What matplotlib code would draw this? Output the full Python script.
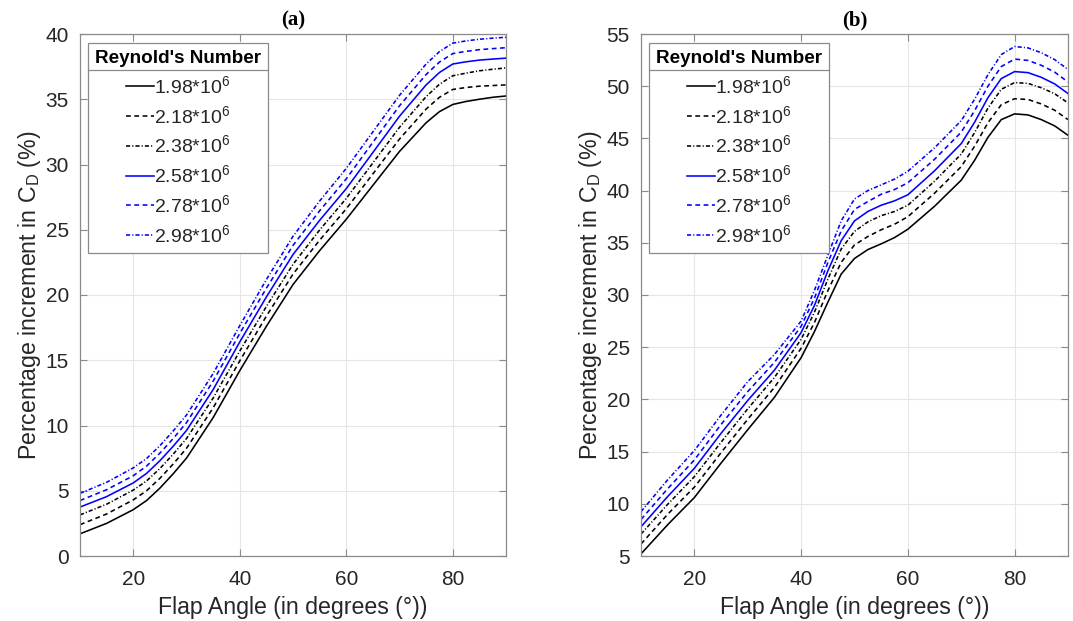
import numpy as np
import matplotlib
matplotlib.use("Agg")
import matplotlib.pyplot as plt
from matplotlib.lines import Line2D

plt.rcParams["font.family"] = ["Liberation Sans", "DejaVu Sans"]
plt.rcParams["mathtext.fontset"] = "custom"
plt.rcParams["mathtext.rm"] = "Liberation Sans"
plt.rcParams["mathtext.it"] = "Liberation Sans:italic"

reynolds_labels = ["1.98", "2.18", "2.38", "2.58", "2.78", "2.98"]

# (a) flap deflection angles (degrees) and percentage increment in C_D
flap_angle_a = [10, 15, 20, 22.5, 25, 27.5, 30, 35, 40, 45, 50, 55, 60, 65, 70, 75, 77.5, 80, 82.5, 85, 87.5, 90]
cd_a_198 = [1.7, 2.5, 3.55, 4.25, 5.2, 6.3, 7.5, 10.6, 14.2, 17.6, 20.8, 23.4, 25.8, 28.4, 31.0, 33.2, 34.05, 34.6, 34.83, 35.0, 35.15, 35.25]
cd_a_218 = [2.4, 3.22, 4.3, 5.0, 5.95, 7.05, 8.25, 11.35, 14.95, 18.38, 21.6, 24.2, 26.6, 29.28, 31.95, 34.25, 35.15, 35.75, 35.9, 36.0, 36.05, 36.1]
cd_a_238 = [3.15, 3.97, 5.05, 5.75, 6.7, 7.8, 9.0, 12.1, 15.7, 19.12, 22.35, 24.98, 27.4, 30.12, 32.85, 35.2, 36.15, 36.8, 37.0, 37.18, 37.3, 37.4]
cd_a_258 = [3.75, 4.55, 5.6, 6.33, 7.3, 8.41, 9.62, 12.75, 16.4, 19.85, 23.1, 25.72, 28.15, 30.92, 33.7, 36.1, 37.05, 37.7, 37.87, 38.0, 38.08, 38.15]
cd_a_278 = [4.25, 5.08, 6.15, 6.89, 7.88, 9.0, 10.22, 13.4, 17.05, 20.52, 23.8, 26.45, 28.9, 31.7, 34.5, 36.9, 37.85, 38.5, 38.67, 38.8, 38.88, 38.95]
cd_a_298 = [4.8, 5.65, 6.75, 7.47, 8.45, 9.58, 10.8, 13.98, 17.65, 21.18, 24.5, 27.2, 29.7, 32.5, 35.3, 37.7, 38.65, 39.3, 39.47, 39.6, 39.68, 39.75]

# (b) flap deflection angles (degrees) and percentage increment in C_D
flap_angle_b = [10, 15, 20, 25, 30, 35, 40, 42.5, 45, 47.5, 50, 52.5, 55, 57.5, 60, 65, 70, 72.5, 75, 77.5, 80, 82.5, 85, 87.5, 90]
cd_b_198 = [5.2, 8.0, 10.6, 13.9, 17.1, 20.2, 24.0, 26.5, 29.3, 32.0, 33.5, 34.35, 34.9, 35.5, 36.3, 38.5, 41.0, 42.9, 45.1, 46.8, 47.35, 47.25, 46.8, 46.2, 45.3]
cd_b_218 = [6.15, 9.0, 11.6, 14.9, 18.1, 21.15, 24.9, 27.37, 30.4, 33.12, 34.8, 35.6, 36.25, 36.78, 37.5, 39.75, 42.3, 44.25, 46.5, 48.23, 48.8, 48.73, 48.3, 47.7, 46.8]
cd_b_238 = [7.1, 9.95, 12.6, 15.9, 19.1, 22.1, 25.75, 28.35, 31.5, 34.4, 36.1, 37.0, 37.6, 38.0, 38.6, 40.9, 43.5, 45.55, 47.9, 49.7, 50.35, 50.27, 49.85, 49.28, 48.4]
cd_b_258 = [7.8, 10.7, 13.4, 16.75, 19.9, 22.8, 26.4, 29.0, 32.3, 35.2, 37.1, 38.0, 38.6, 39.02, 39.6, 41.9, 44.5, 46.55, 48.9, 50.73, 51.4, 51.3, 50.85, 50.22, 49.3]
cd_b_278 = [8.5, 11.45, 14.2, 17.6, 20.75, 23.55, 27.0, 29.7, 33.1, 36.13, 38.2, 38.95, 39.65, 40.1, 40.75, 43.0, 45.6, 47.65, 50.0, 51.88, 52.6, 52.47, 52.0, 51.35, 50.4]
cd_b_298 = [9.25, 12.3, 15.1, 18.5, 21.7, 24.3, 27.5, 30.45, 33.8, 37.1, 39.2, 40.0, 40.55, 41.1, 41.85, 44.1, 46.7, 48.75, 51.1, 53.03, 53.8, 53.67, 53.2, 52.55, 51.6]

series_a = [cd_a_198, cd_a_218, cd_a_238, cd_a_258, cd_a_278, cd_a_298]
series_b = [cd_b_198, cd_b_218, cd_b_238, cd_b_258, cd_b_278, cd_b_298]

colors = ["black", "black", "black", "#0000ff", "#0000ff", "#0000ff"]
dash_dash = (3.0, 2.2)
dash_dot = (2.6, 1.3, 0.7, 1.3)
dashes = [None, dash_dash, dash_dot, None, dash_dash, dash_dot]
LW = 1.15

spine_gray = "#8a8a8a"
text_dark = "#262626"

fig = plt.figure(figsize=(10.73, 6.21), dpi=100)
ax_a = fig.add_axes([80 / 1073, 65 / 621, 426 / 1073, 522 / 621])
ax_b = fig.add_axes([641 / 1073, 65 / 621, 427 / 1073, 522 / 621])


def make_line(ax, x, y, color, d, label=None):
    ln, = ax.plot(x, y, color=color, lw=LW, label=label)
    if d is not None:
        ln.set_dashes(d)
    return ln


def draw_panel(ax, angles, series, ylim, yticks, title):
    labels = []
    for vals, c, d, lab in zip(series, colors, dashes, reynolds_labels):
        make_line(ax, angles, vals, c, d)
        labels.append(lab + r"*10$^\mathregular{6}$")
    ax.set_xlim(10, 90)
    ax.set_ylim(*ylim)
    ax.set_xticks([20, 40, 60, 80])
    ax.set_yticks(yticks)
    ax.grid(True, color="#e6e6e6", lw=0.8)
    ax.set_axisbelow(True)
    for sp in ax.spines.values():
        sp.set_color(spine_gray)
        sp.set_linewidth(0.9)
    ax.tick_params(direction="in", length=5, width=0.8, color=spine_gray,
                   labelsize=15, labelcolor=text_dark, top=True, right=True)
    ax.tick_params(axis="x", pad=10)
    ax.tick_params(axis="y", pad=8)
    ax.set_xlabel("Flap Angle (in degrees (°))", fontsize=16.7, color=text_dark, labelpad=5)
    ax.set_ylabel(r"Percentage increment in C$_\mathregular{D}$ (%)", fontsize=16.7,
                  color=text_dark, labelpad=2)
    ax.set_title(title, fontsize=15, fontweight="bold", family="Liberation Serif", pad=6)

    # legend keys mirror the plotted line styles
    keys = []
    for c, d in zip(colors, dashes):
        k = Line2D([], [], color=c, lw=LW)
        if d is not None:
            k.set_dashes(d)
        keys.append(k)
    leg = ax.legend(keys, labels,
                    loc="upper left", bbox_to_anchor=(0.019, 0.983),
                    title="Reynold's Number", title_fontproperties={"weight": "bold", "size": 13.6},
                    fontsize=14, frameon=True, fancybox=False, edgecolor=spine_gray,
                    framealpha=1, handlelength=1.45, handletextpad=0.0, labelspacing=0.41,
                    borderpad=0.36, borderaxespad=0.0)
    leg.get_frame().set_linewidth(0.9)
    leg._legend_box.align = "center"
    for t in leg.get_texts():
        t.set_color(text_dark)
    return leg


leg_a = draw_panel(ax_a, flap_angle_a, series_a, (0, 40), np.arange(0, 41, 5), "(a)")
leg_b = draw_panel(ax_b, flap_angle_b, series_b, (5, 55), np.arange(5, 56, 5), "(b)")

# separator line under the legend header
fig.canvas.draw()
renderer = fig.canvas.get_renderer()
inv = fig.transFigure.inverted()
for leg in (leg_a, leg_b):
    frame = leg.get_frame().get_window_extent(renderer)
    tbb = leg.get_title().get_window_extent(renderer)
    ysep = tbb.y0 - 3
    (x0, y0) = inv.transform((frame.x0, ysep))
    (x1, _) = inv.transform((frame.x1, ysep))
    fig.add_artist(Line2D([x0, x1], [y0, y0], transform=fig.transFigure,
                          color=spine_gray, lw=0.9))

fig.savefig("out.png", dpi=100)
